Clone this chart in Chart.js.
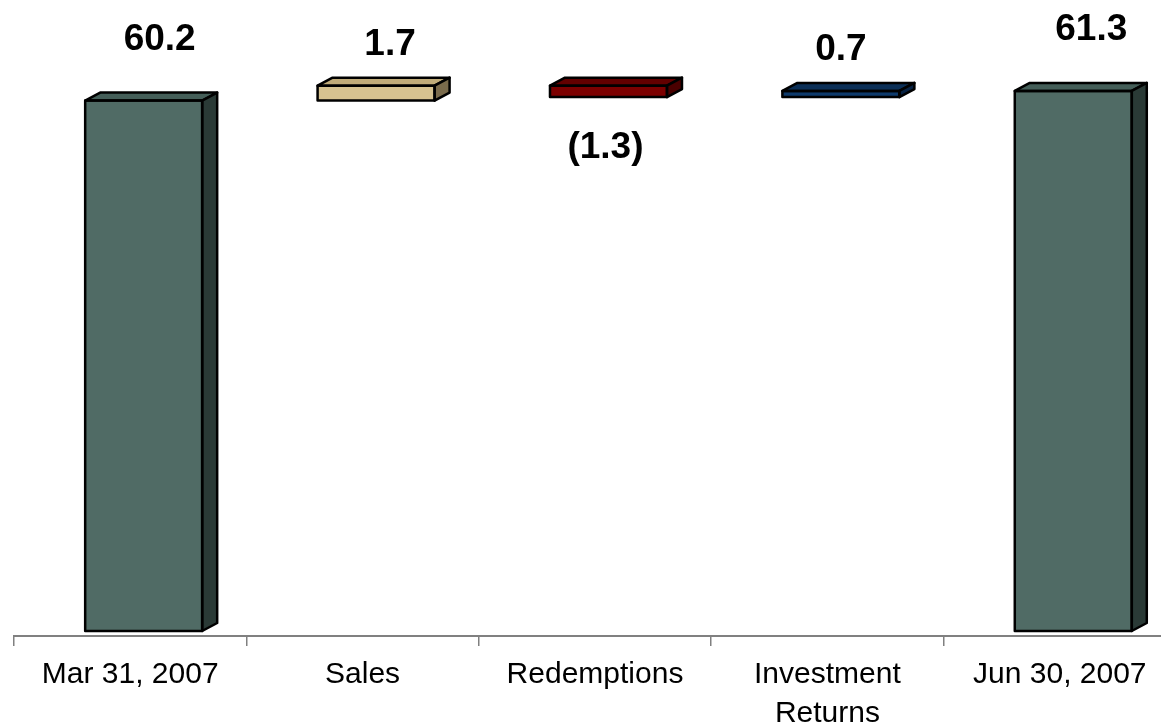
<!DOCTYPE html>
<html>
<head>
<meta charset="utf-8">
<title>Assets Under Management Roll-forward</title>
<script src="https://cdn.jsdelivr.net/npm/chart.js@4.4.1/dist/chart.umd.min.js"></script>
<style>
  html, body { margin: 0; padding: 0; background: #ffffff; overflow: hidden; }
  #wrap { width: 1180px; height: 726px; }
</style>
</head>
<body>
<div id="wrap"><canvas id="chart" width="1180" height="726"></canvas></div>
<script>
// Waterfall steps, in billions
const categories = ['Mar 31, 2007', 'Sales', 'Redemptions', ['Investment', 'Returns'], 'Jun 30, 2007'];
const stepValues = [60.2, 1.7, -1.3, 0.7, 61.3];
const isTotal = [true, false, false, false, true];

// Face colours per bar: front, top, right side
const frontColors = ['#506b65', '#d6c290', '#7c0000', '#0e3a6b', '#506b65'];
const topColors   = ['#445e58', '#c0ab79', '#620000', '#0b2f57', '#445e58'];
const sideColors  = ['#2a3a36', '#7a6b4c', '#4a0000', '#072244', '#2a3a36'];

// Horizontal nudge of each value label from its bar's front centre (px)
const labelNudge = [16, 14, -3, 0, 18];

// Floating ranges: totals stand on zero, changes start from the running total
const ranges = [];
let running = 0;
stepValues.forEach((v, i) => {
  if (isTotal[i]) { ranges.push([0, v]); running = v; }
  else { ranges.push([running, running + v]); running += v; }
});

const fmt = v => v < 0 ? '(' + Math.abs(v).toFixed(1) + ')' : v.toFixed(1);

const DEPTH_X = 15, DEPTH_Y = -8;
const BAR_SHIFT = 0.058; // bars sit a little right of their category centre

const box3d = {
  id: 'box3d',
  afterDatasetsDraw(chart) {
    const ctx = chart.ctx;
    const meta = chart.getDatasetMeta(0);
    ctx.save();
    ctx.lineWidth = 2.5;
    ctx.lineJoin = 'round';
    ctx.strokeStyle = '#000000';
    meta.data.forEach((bar, i) => {
      const p = bar.getProps(['x', 'y', 'base', 'width'], true);
      const l = p.x - p.width / 2, r = p.x + p.width / 2;
      const t = Math.min(p.y, p.base), b = Math.max(p.y, p.base);
      // top face
      ctx.beginPath();
      ctx.moveTo(l, t); ctx.lineTo(l + DEPTH_X, t + DEPTH_Y);
      ctx.lineTo(r + DEPTH_X, t + DEPTH_Y); ctx.lineTo(r, t); ctx.closePath();
      ctx.fillStyle = topColors[i]; ctx.fill(); ctx.stroke();
      // right face
      ctx.beginPath();
      ctx.moveTo(r, t); ctx.lineTo(r + DEPTH_X, t + DEPTH_Y);
      ctx.lineTo(r + DEPTH_X, b + DEPTH_Y); ctx.lineTo(r, b); ctx.closePath();
      ctx.fillStyle = sideColors[i]; ctx.fill(); ctx.stroke();
      // front outline
      ctx.strokeRect(l, t, r - l, b - t);
    });
    ctx.restore();
  },
  afterDraw(chart) {
    const ctx = chart.ctx;
    const meta = chart.getDatasetMeta(0);
    ctx.save();
    ctx.font = 'bold 37px "Liberation Sans", Arial, sans-serif';
    ctx.fillStyle = '#000000';
    ctx.textAlign = 'center';
    ctx.textBaseline = 'middle';
    meta.data.forEach((bar, i) => {
      const p = bar.getProps(['x', 'y', 'base', 'width'], true);
      const t = Math.min(p.y, p.base), b = Math.max(p.y, p.base);
      const v = stepValues[i];
      let ty;
      if (v < 0) ty = b + 51;
      else ty = t - (isTotal[i] ? 61 : 41);
      ctx.fillText(fmt(v), p.x + labelNudge[i], ty);
    });
    ctx.restore();
  }
};

new Chart(document.getElementById('chart'), {
  type: 'bar',
  data: {
    labels: categories,
    datasets: [{
      data: ranges.map((r, i) => ({ x: i, y: r })),
      xAxisID: 'xb',
      backgroundColor: frontColors,
      borderWidth: 0,
      barThickness: 117,
      grouped: false
    }]
  },
  options: {
    responsive: false,
    animation: false,
    layout: { padding: { left: 14, right: 4, top: 0, bottom: 0 } },
    plugins: { legend: { display: false }, tooltip: { enabled: false } },
    scales: {
      x: {
        type: 'category',
        position: 'bottom',
        offset: true,
        grid: { offset: true, drawOnChartArea: false, drawTicks: true, tickLength: 10, color: '#808080', lineWidth: 1.5 },
        border: { display: true, color: '#808080', width: 2 },
        ticks: {
          color: '#000000',
          padding: 10,
          maxRotation: 0,
          autoSkip: false,
          font: { family: '"Liberation Sans", Arial, sans-serif', size: 30, lineHeight: 1.28 }
        },
        afterFit(axis) { axis.height = 90; }
      },
      xb: {
        type: 'linear',
        display: false,
        offset: false,
        grid: { offset: false },
        min: -0.5 - BAR_SHIFT,
        max: 4.5 - BAR_SHIFT
      },
      y: {
        display: false,
        min: -0.57,
        max: 71.62
      }
    }
  },
  plugins: [box3d]
});
</script>
</body>
</html>
